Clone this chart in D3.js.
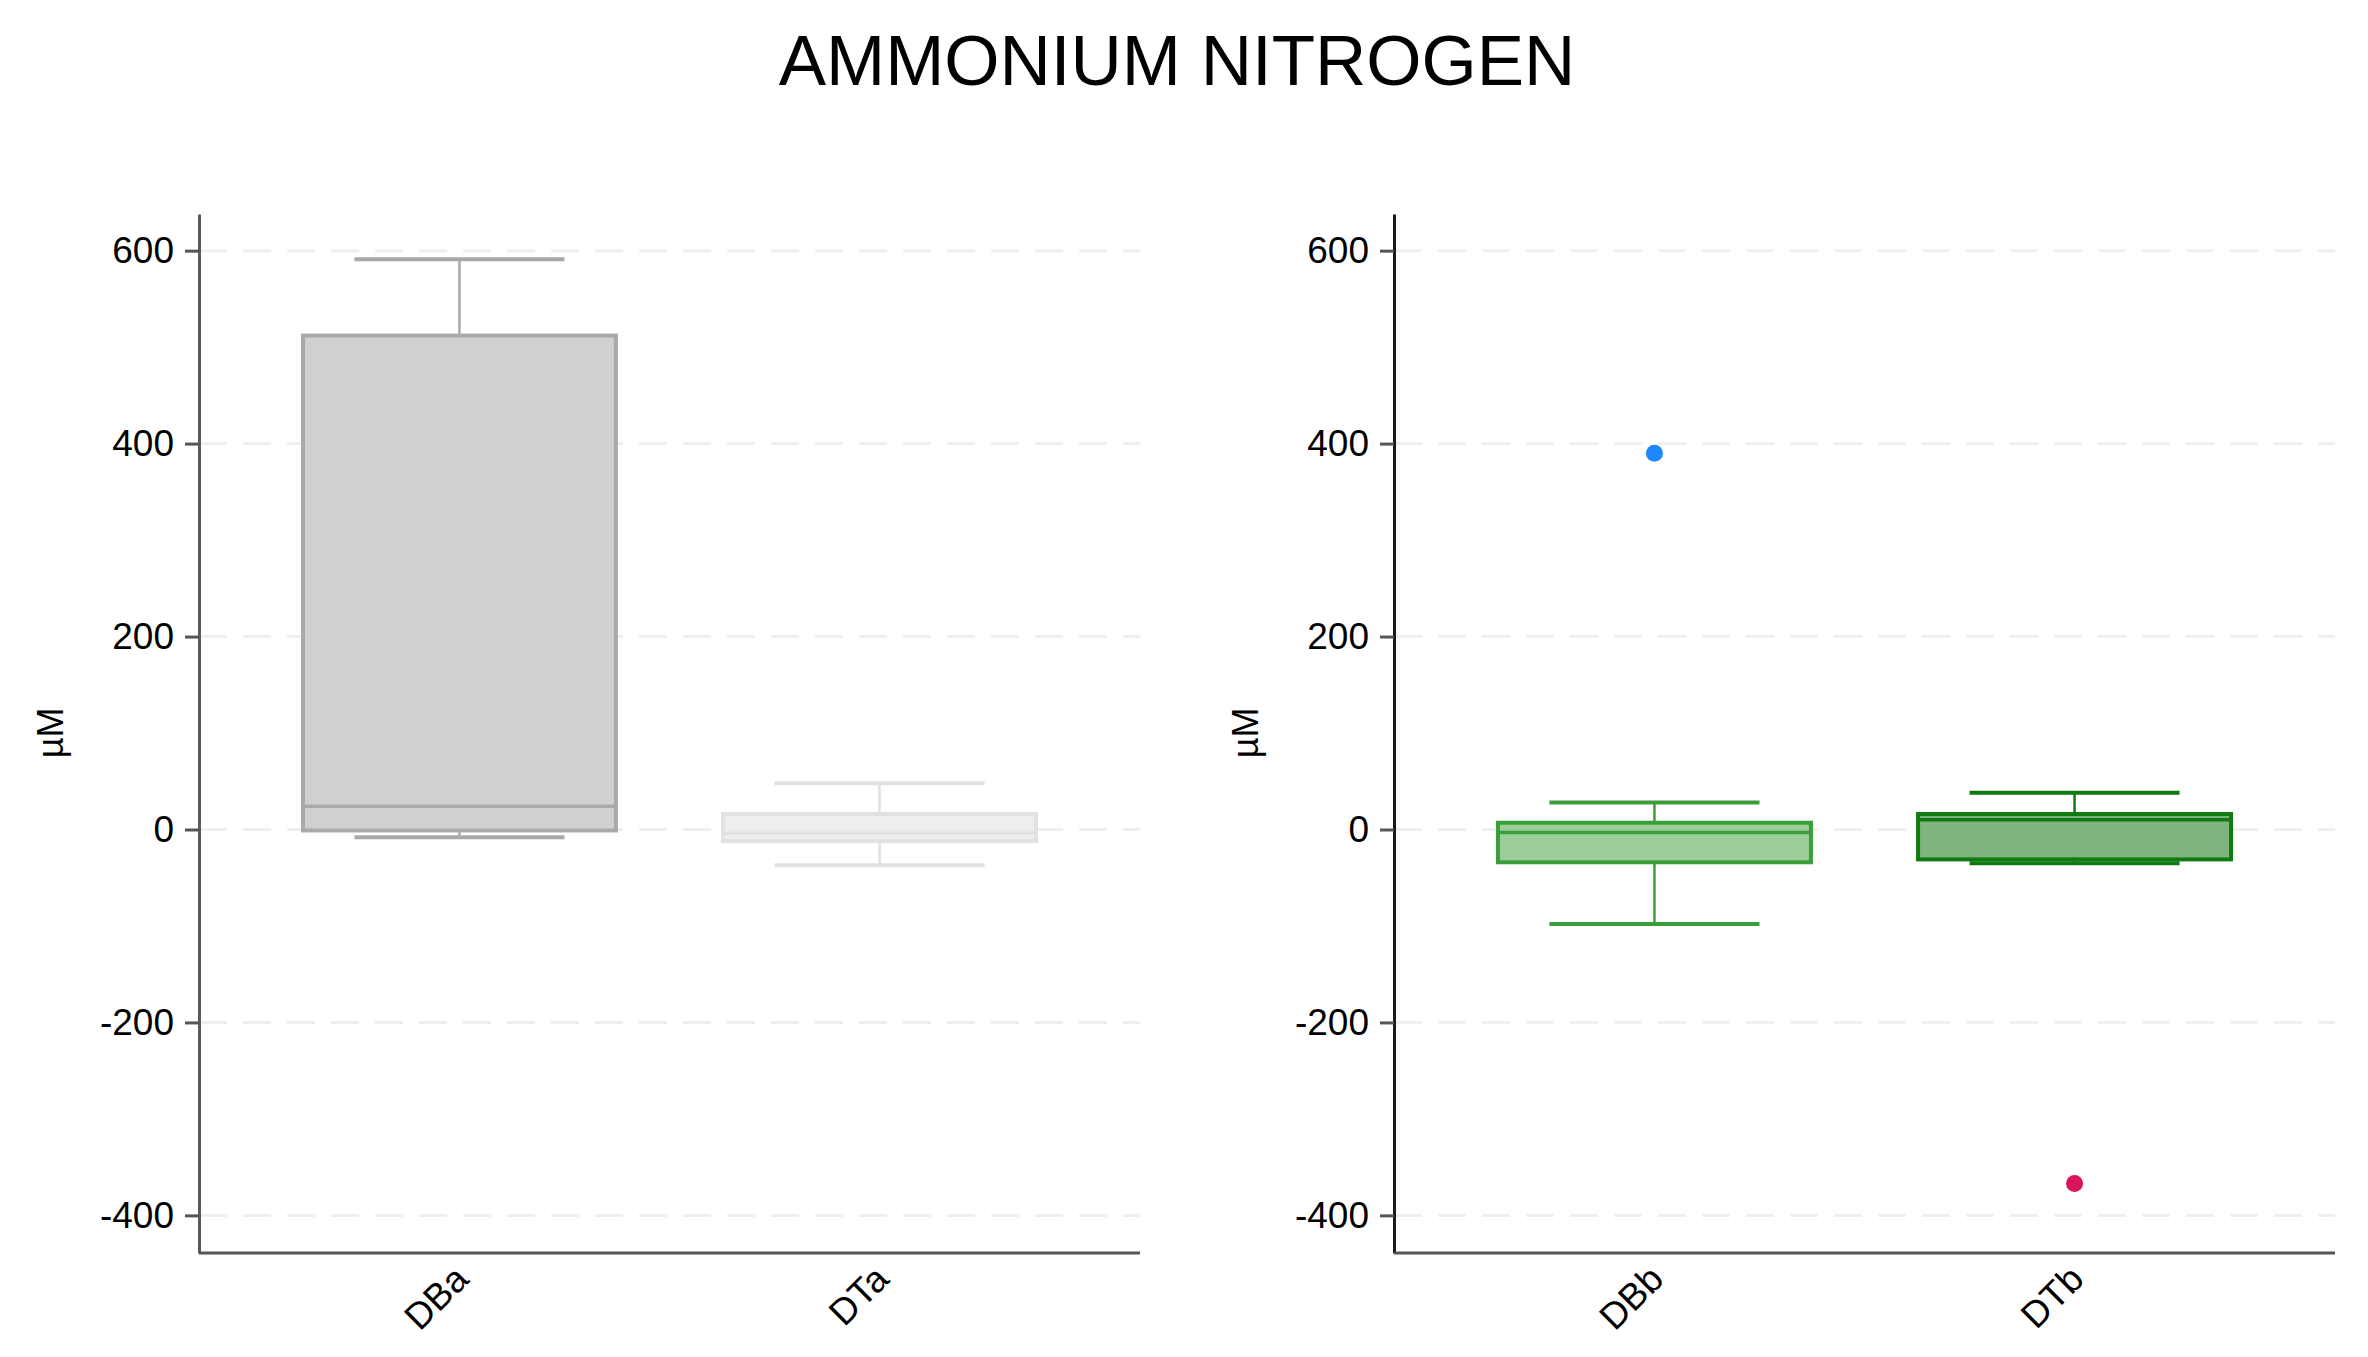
<!DOCTYPE html>
<html>
<head>
<meta charset="utf-8">
<script src="https://cdn.jsdelivr.net/npm/d3@7"></script>
<style>
  body { margin: 0; background: #fff; }
  text { font-family: "Liberation Sans", Arial, sans-serif; fill: #000; }
</style>
</head>
<body>
<script>
// box stats (µM)
var categories = ["DBa", "DTa", "DBb", "DTb"];
var whisker_low = [-8, -37, -98, -35];
var q1 = [-1, -12, -34, -31];
var median = [24, -4, -3, 10];
var q3 = [512, 16, 7, 16];
var whisker_high = [591, 48, 28, 38];
var outlier_cats = ["DBb", "DTb"];
var outlier_values = [390, -367];
var y_ticks = [-400, -200, 0, 200, 400, 600];

var fills = {DBa: "#d0d0d0", DTa: "#eeeeee", DBb: "#9dcd99", DTb: "#80b47e"};
var strokes = {DBa: "#a9a9a9", DTa: "#e1e1e1", DBb: "#3a9f3a", DTb: "#0f7a10"};
var outlier_colors = {DBb: "#1f87ff", DTb: "#d9145a"};

var boxes = categories.map(function(c, i) {
  return {cat: c, lo: whisker_low[i], q1: q1[i], med: median[i], q3: q3[i], hi: whisker_high[i]};
});
var outliers = outlier_cats.map(function(c, i) { return {cat: c, value: outlier_values[i]}; });

var width = 2368, height = 1357;

var svg = d3.select("body").append("svg")
    .attr("width", width)
    .attr("height", height);

svg.append("text")
    .attr("x", 1177)
    .attr("y", 85)
    .attr("text-anchor", "middle")
    .style("font-size", "71px")
    .text("AMMONIUM NITROGEN");

var y_scale = d3.scaleLinear().domain([-439, 638]).range([1253, 214]);

var panels = [
  {cats: ["DBa", "DTa"], left: 199, w: 941, axis_color: "#5a5a5a"},
  {cats: ["DBb", "DTb"], left: 1394, w: 941, axis_color: "#1a1a1a"}
];

panels.forEach(function(p) {
  var g = svg.append("g").attr("transform", "translate(" + p.left + ",0)");

  var x_scale = d3.scalePoint().domain(p.cats).range([0, p.w]).padding(0.62);
  var step = x_scale.step(),
      box_w = step * 0.745,
      cap_w = step * 0.5;

  // dashed grid
  g.selectAll(".grid")
      .data(y_ticks)
    .enter().append("line")
      .attr("class", "grid")
      .attr("x1", 0)
      .attr("x2", p.w)
      .attr("y1", function(d) { return y_scale(d); })
      .attr("y2", function(d) { return y_scale(d); })
      .style("stroke", "#efefef")
      .style("stroke-width", 3)
      .style("stroke-dasharray", "28,16");

  // y-axis
  var ya = g.append("g")
      .call(d3.axisLeft(y_scale).tickValues(y_ticks)
        .tickFormat(function(d) { return String(d); })
        .tickSize(14).tickSizeOuter(0).tickPadding(11));
  ya.select(".domain").style("stroke", p.axis_color).style("stroke-width", 3);
  ya.selectAll(".tick line").style("stroke", "#555").style("stroke-width", 3);
  ya.selectAll(".tick text")
      .style("font-size", "37px")
      .style("fill", "#000")
      .attr("font-family", null);

  g.append("text")
      .attr("transform", "translate(" + (-149) + "," + 733 + ") rotate(-90)")
      .attr("text-anchor", "middle")
      .attr("dy", "0.35em")
      .style("font-size", "36px")
      .text("µM");

  // x-axis
  g.append("line")
      .attr("x1", 0).attr("x2", p.w)
      .attr("y1", y_scale.range()[0]).attr("y2", y_scale.range()[0])
      .style("stroke", "#555")
      .style("stroke-width", 3);

  g.selectAll(".xlabel")
      .data(p.cats)
    .enter().append("text")
      .attr("class", "xlabel")
      .attr("transform", function(d) {
        return "translate(" + (x_scale(d) + 2) + "," + 1272 + ") rotate(-45)";
      })
      .attr("text-anchor", "end")
      .attr("dy", "0.35em")
      .style("font-size", "37px")
      .text(function(d) { return d; });

  var data = boxes.filter(function(b) { return p.cats.indexOf(b.cat) >= 0; });
  var bx = g.selectAll(".box").data(data).enter().append("g").attr("class", "box");

  // whisker stems
  bx.append("line")
      .attr("x1", function(d) { return x_scale(d.cat); })
      .attr("x2", function(d) { return x_scale(d.cat); })
      .attr("y1", function(d) { return y_scale(d.hi); })
      .attr("y2", function(d) { return y_scale(d.q3); })
      .style("stroke", function(d) { return strokes[d.cat]; })
      .style("stroke-width", 2.5);
  bx.append("line")
      .attr("x1", function(d) { return x_scale(d.cat); })
      .attr("x2", function(d) { return x_scale(d.cat); })
      .attr("y1", function(d) { return y_scale(d.q1); })
      .attr("y2", function(d) { return y_scale(d.lo); })
      .style("stroke", function(d) { return strokes[d.cat]; })
      .style("stroke-width", 2.5);

  // caps
  ["hi", "lo"].forEach(function(k) {
    bx.append("line")
        .attr("x1", function(d) { return x_scale(d.cat) - cap_w / 2; })
        .attr("x2", function(d) { return x_scale(d.cat) + cap_w / 2; })
        .attr("y1", function(d) { return y_scale(d[k]); })
        .attr("y2", function(d) { return y_scale(d[k]); })
        .style("stroke", function(d) { return strokes[d.cat]; })
        .style("stroke-width", 4);
  });

  bx.append("rect")
      .attr("x", function(d) { return x_scale(d.cat) - box_w / 2; })
      .attr("width", box_w)
      .attr("y", function(d) { return y_scale(d.q3); })
      .attr("height", function(d) { return y_scale(d.q1) - y_scale(d.q3); })
      .style("fill", function(d) { return fills[d.cat]; })
      .style("stroke", function(d) { return strokes[d.cat]; })
      .style("stroke-width", 4);

  bx.append("line")
      .attr("x1", function(d) { return x_scale(d.cat) - box_w / 2; })
      .attr("x2", function(d) { return x_scale(d.cat) + box_w / 2; })
      .attr("y1", function(d) { return y_scale(d.med); })
      .attr("y2", function(d) { return y_scale(d.med); })
      .style("stroke", function(d) { return strokes[d.cat]; })
      .style("stroke-width", 3.5);

  g.selectAll(".dot")
      .data(outliers.filter(function(o) { return p.cats.indexOf(o.cat) >= 0; }))
    .enter().append("circle")
      .attr("class", "dot")
      .attr("r", 8.5)
      .attr("cx", function(d) { return x_scale(d.cat); })
      .attr("cy", function(d) { return y_scale(d.value); })
      .style("fill", function(d) { return outlier_colors[d.cat]; });
});
</script>
</body>
</html>
